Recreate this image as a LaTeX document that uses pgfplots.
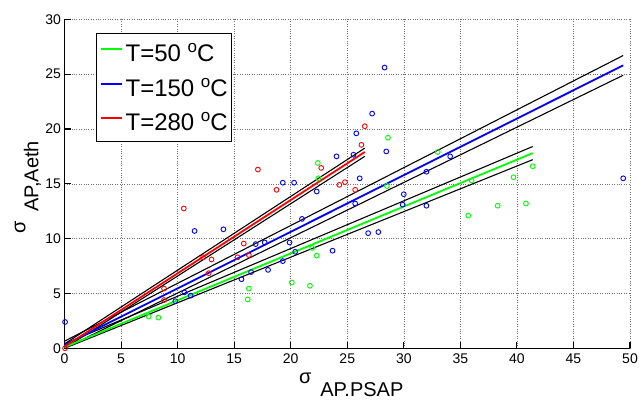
\documentclass[border=0pt]{standalone}
\usepackage{fontspec}
\setmainfont{Liberation Sans}
\usepackage{pgfplots}
\pgfplotsset{compat=1.18}
\usetikzlibrary{calc}
\definecolor{mgreen}{rgb}{0,1,0}
\definecolor{mblue}{rgb}{0,0,1}
\definecolor{mred}{rgb}{1,0,0}
\newcommand{\degC}{\raisebox{9pt}{\fontsize{17}{17}\selectfont o}C}
\begin{document}
\begin{tikzpicture}
\begin{axis}[name=ax, scale only axis, width=565.5pt, height=329pt,
 xmin=0, xmax=50, ymin=0, ymax=30,
 xtick={0,5,...,50}, ytick={0,5,...,30},
 axis x line*=bottom, axis y line*=left,
 axis line style={line width=1.4pt,-},
 tick align=inside, major tick length=6pt, tick style={line width=1.1pt, black},
 grid=major, major grid style={dotted, line width=0.5pt, black!55},
 ticklabel style={font=\fontsize{14}{14}\selectfont},
 xticklabel style={yshift=-2pt},
 /pgf/number format/assume math mode=true,
 clip=false,
 xlabel={\fontsize{20}{20}\selectfont σ\hspace{9pt}\raisebox{-13pt}{AP.PSAP}},
 ylabel={\fontsize{20}{20}\selectfont σ\hspace{9pt}\raisebox{-13pt}{AP,Aeth}},
 xlabel style={at={(axis description cs:0.507,-0.1075)}, anchor=base},
 ylabel style={at={(axis description cs:-0.0690,0.49)}, anchor=base},
 legend style={at={(axis description cs:0.0557,0.958)}, anchor=north west,
   draw=black, line width=1.2pt, fill=white,
   font=\fontsize{24}{26}\selectfont, inner xsep=3pt, inner ysep=2pt,
   nodes={inner xsep=1pt, inner ysep=7.5pt},
   /tikz/every odd column/.append style={column sep=2pt}},
 legend cell align=left,
 legend image code/.code={\draw[#1] (0pt,4pt) -- (21pt,4pt);},
]
\addlegendimage{draw=mgreen, line width=2pt}
\addlegendentry{T=50 \degC}
\addlegendimage{draw=mblue, line width=2pt}
\addlegendentry{T=150 \degC}
\addlegendimage{draw=mred, line width=2pt}
\addlegendentry{T=280 \degC}
% scatter points
\addplot[only marks, mark=o, mark size=2.4pt, color=mgreen, mark options={line width=0.9pt}, forget plot] coordinates {
(7.45,2.9) (8.3,2.8) (16.2,4.45) (16.3,5.45) (20.1,6.0) (21.7,5.7) (21.9,9.15) (22.3,8.45)
(22.4,16.9) (22.45,15.5) (28.5,14.8) (28.6,19.2) (33.0,17.9) (35.7,12.1) (36.0,15.3)
(38.3,13.0) (39.7,15.6) (40.8,13.2) (41.4,16.6)};
\addplot[only marks, mark=o, mark size=2.4pt, color=mblue, mark options={line width=0.9pt}, forget plot] coordinates {
(0.05,2.4) (9.8,4.3) (10.6,5.1) (11.15,4.8) (11.5,10.7) (14.05,10.85) (15.65,6.3) (16.5,6.95)
(16.9,9.5) (17.7,9.65) (18.0,7.15) (19.3,7.95) (19.3,15.1) (19.9,9.65) (20.3,15.1) (20.4,8.8)
(21.0,11.8) (22.3,14.3) (23.7,8.9) (24.05,17.5) (25.55,17.65) (25.7,13.2) (25.8,19.6) (26.1,15.5)
(26.85,10.5) (27.2,21.4) (27.75,10.6) (28.3,25.6) (28.45,17.95) (29.9,13.1) (30.0,14.05)
(32.0,13.0) (32.0,16.1) (34.1,17.5) (49.4,15.5)};
\addplot[only marks, mark=o, mark size=2.4pt, color=mred, mark options={line width=0.9pt}, forget plot] coordinates {
(0.05,0.0) (8.8,5.45) (8.8,4.4) (10.55,12.75) (12.25,8.3) (12.75,6.85) (13.0,8.1) (15.3,8.3)
(15.85,9.55) (16.3,8.5) (17.1,16.3) (18.75,14.45) (22.7,16.45) (24.3,14.9) (24.8,15.15)
(25.7,14.45) (26.25,18.55) (26.55,20.25)};
% confidence bands
\addplot[black, line width=1.1pt, forget plot] coordinates {(0,0.4) (41.4,18.4)};
\addplot[black, line width=1.1pt, forget plot] coordinates {(0,0.0) (41.4,17.2)};
\addplot[black, line width=1.1pt, forget plot] coordinates {(0,0.65) (49.4,26.7)};
\addplot[black, line width=1.1pt, forget plot] coordinates {(0,0.0) (49.4,24.9)};
\addplot[black, line width=1.1pt, forget plot] coordinates {(0,0.4) (26.55,18.25)};
\addplot[black, line width=1.1pt, forget plot] coordinates {(0,0.0) (26.55,17.5)};
% fits
\addplot[mgreen, line width=1.8pt, forget plot] coordinates {(0,0.1) (41.4,17.8)};
\addplot[mblue, line width=1.8pt, forget plot] coordinates {(0,0.3) (49.4,25.8)};
\addplot[mred, line width=1.8pt, forget plot] coordinates {(0,0.15) (26.55,17.9)};
\end{axis}
\pgfresetboundingbox
\path[use as bounding box] ($(ax.south west)+(-64.5pt,-52.6pt)$) rectangle ($(ax.north east)+(9pt,19.3pt)$);
\end{tikzpicture}
\end{document}
